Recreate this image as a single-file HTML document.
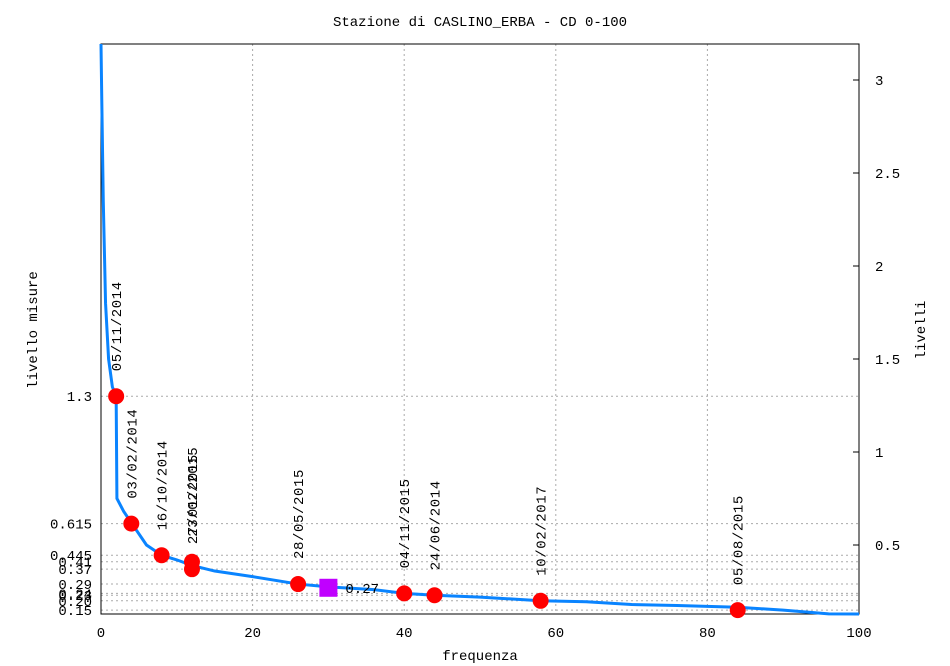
<!DOCTYPE html>
<html><head><meta charset="utf-8"><style>
body{margin:0;background:#fff}
svg{display:block;font-family:"Liberation Mono",monospace;font-size:14px}
</style></head><body>
<svg id="c" width="950" height="666"></svg>
<script>
const curveX=[0,0.1,0.3,0.6,1,1.5,2,2.1,3,4,6,8,10,12,15,20,26,30,36,40,44,50,58,64,70,76,84,90,96,100];
const curveY=[3.2,2.9,2.35,1.8,1.5,1.35,1.3,0.75,0.68,0.62,0.5,0.445,0.42,0.39,0.36,0.33,0.29,0.275,0.26,0.24,0.23,0.22,0.20,0.195,0.18,0.175,0.165,0.15,0.13,0.12];
const pointX=[2,4,8,12,12,26,40,44,58,84];
const pointY=[1.3,0.615,0.445,0.41,0.37,0.29,0.24,0.23,0.20,0.15];
const pointLabels=["05/11/2014","03/02/2014","16/10/2014","23/02/2015","27/01/2015","28/05/2015","04/11/2015","24/06/2014","10/02/2017","05/08/2015"];
const leftTicks=[1.3,0.615,0.445,0.41,0.37,0.29,0.24,0.23,0.20,0.15];
const leftTickLabels=["1.3","0.615","0.445","0.41","0.37","0.29","0.24","0.23","0.20","0.15"];
const rightTicks=[0.5,1,1.5,2,2.5,3];
const rightTickLabels=["0.5","1","1.5","2","2.5","3"];
const xTicks=[0,20,40,60,80,100];
const markerX=[30];const markerY=[0.27];const markerLabels=["0.27"];
const L=101,R=859,T=44,B=614;
const sx=v=>L+v*(R-L)/100;
const sy=v=>638-v*186;
const svg=document.getElementById('c');const NS='http://www.w3.org/2000/svg';
function mk(t,a,txt){const e=document.createElementNS(NS,t);for(const k in a)e.setAttribute(k,a[k]);if(txt!=null)e.textContent=txt;svg.appendChild(e);return e;}
let e;
e=mk('text',{x:480,y:26,'text-anchor':'middle'},'Stazione di CASLINO_ERBA - CD 0-100');


xTicks.forEach(t=>{
 if(t>0&&t<100){e=mk('line',{x1:sx(t),x2:sx(t),y1:T,y2:B,stroke:'#aaa','stroke-dasharray':'2,3'});
 
 }
 e=mk('text',{x:sx(t),y:637,'text-anchor':'middle'},String(t));
 
 
});
leftTicks.forEach((t,i)=>{
 e=mk('line',{x1:L,x2:R,y1:sy(t),y2:sy(t),stroke:'#aaa','stroke-dasharray':'2,3'});
 
 
 e=mk('text',{x:92,y:sy(t)+5,'text-anchor':'end'},leftTickLabels[i]);
 
 
});
rightTicks.forEach((t,i)=>{
 e=mk('line',{x1:R-6,x2:R,y1:sy(t),y2:sy(t),stroke:'#000'});
 
 
 e=mk('text',{x:875,y:sy(t)+5},rightTickLabels[i]);
 
 
});
e=mk('rect',{x:L,y:T,width:R-L,height:B-T,fill:'none',stroke:'#000'});


e=mk('text',{x:480,y:660,'text-anchor':'middle'},'frequenza');


e=mk('text',{x:0,y:0,transform:'translate(37,330) rotate(-90)','text-anchor':'middle'},'livello misure');


e=mk('text',{x:0,y:0,transform:'translate(925,330) rotate(-90)','text-anchor':'middle'},'livelli');


let d='';curveX.forEach((x,i)=>{d+=(i?'L':'M')+sx(x)+','+Math.min(B,Math.max(T,sy(curveY[i])));});
e=mk('path',{d:d,fill:'none',stroke:'#0a84ff','stroke-width':3});


pointX.forEach((x,i)=>{
 e=mk('circle',{cx:sx(x),cy:sy(pointY[i]),r:8,fill:'#f00'});
 
 
 e=mk('text',{x:0,y:0,transform:`translate(${sx(x)+5},${sy(pointY[i])-25}) rotate(-90)`,'letter-spacing':'0.6'},pointLabels[i]);
 
 
});
markerX.forEach((x,i)=>{
 e=mk('rect',{x:sx(x)-9,y:sy(markerY[i])-9,width:18,height:18,fill:'#c000ff'});
 
 
 e=mk('text',{x:sx(x)+17,y:sy(markerY[i])+5},markerLabels[i]);
 
 
});
</script>
</body></html>
